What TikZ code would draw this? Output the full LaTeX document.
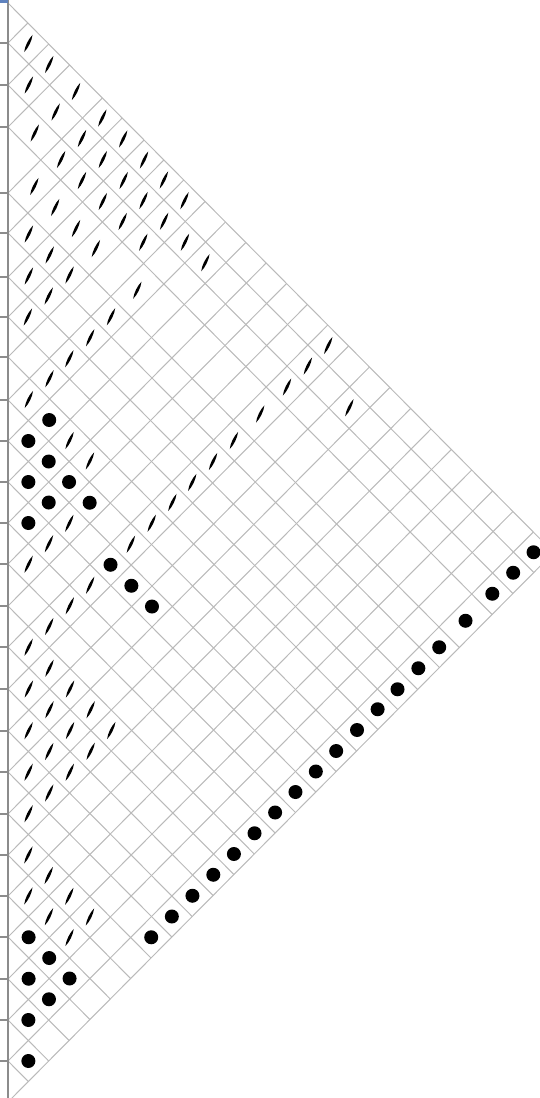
\documentclass[tikz,border=0pt]{standalone}
\usetikzlibrary{calc}
\definecolor{cellgray}{RGB}{186,186,186}
\definecolor{axisgray}{RGB}{140,140,140}
\definecolor{selblue}{RGB}{95,130,190}

% row boundaries down the axis, top to bottom
\def\rowpos{{3,43,85,127,193,233,277,317,357,400,441,482,523,564,606,647,689,731,772,814,855,896,937,979,1020,1061,1102}}
\def\sx{0.993}
% centre of cell (row #1, column #2)
\newcommand{\cellat}[2]{%
  \pgfmathtruncatemacro\na{#1+1}%
  \pgfmathtruncatemacro\nb{#2+1}%
  \pgfmathsetmacro\ua{\rowpos[#1]}%
  \pgfmathsetmacro\ub{\rowpos[\na]}%
  \pgfmathsetmacro\va{\rowpos[#2]}%
  \pgfmathsetmacro\vb{\rowpos[\nb]}%
  \pgfmathsetmacro\cx{8+\sx*(\va+\vb-\ua-\ub)/4}%
  \pgfmathsetmacro\cy{(\ua+\ub+\va+\vb)/4}}

\begin{document}
\begin{tikzpicture}[
  x=1pt, y=-1pt,
  gridline/.style={draw=cellgray,line width=1pt},
  axisline/.style={draw=axisgray,line width=1.6pt},
  tickline/.style={draw=axisgray,line width=1.2pt},
  slashmark/.style={fill=black},
  dotmark/.style={fill=black}
]
\useasboundingbox (0,0) rectangle (540,1098);
\clip (0,0) rectangle (540,1098);

\foreach \k in {0,...,26}{
  \pgfmathsetmacro\pk{\rowpos[\k]}
  \draw[gridline] (8,\pk) -- ({8+\sx*(1102-\pk)/2},{(\pk+1102)/2});
  \draw[gridline] (8,\pk) -- ({8+\sx*(\pk-3)/2},{(\pk+3)/2});
}

\draw[axisline] (8,0) -- (8,1098);
\foreach \k in {1,...,25}{
  \pgfmathsetmacro\pk{\rowpos[\k]}
  \draw[tickline] (0,\pk) -- (8,\pk);
}
\draw[draw=selblue,line width=2.6pt] (0,1.3) -- (8,1.3);

\foreach \a/\b in {0/1,0/2,0/3,0/4,0/5,0/6,0/7,0/8,0/15,
  1/2,1/3,1/4,1/5,1/6,1/7,1/8,1/9,1/10,1/15,1/17,
  2/3,2/4,2/5,2/6,2/7,2/8,2/15,3/4,3/5,3/6,3/7,3/9,3/15,
  4/5,4/6,4/7,4/9,4/15,5/6,5/7,5/9,5/15,6/7,6/9,6/15,7/9,7/15,
  8/9,8/11,8/12,8/15,9/15,10/13,11/13,11/15,12/13,12/15,13/15,
  14/15,14/16,14/17,14/18,14/19,15/16,15/17,15/18,15/19,
  16/17,16/18,16/19,17/18,17/19,18/19,
  19/20,19/21,19/22,19/23,20/21,20/22,20/23}{
  \cellat{\a}{\b}
  \fill[slashmark,shift={(\cx,\cy)},rotate=64]
    (-9.5,0) .. controls (-4,1.95) and (4,1.95) .. (9.5,0)
    .. controls (4,-1.95) and (-4,-1.95) .. cycle;
}

\foreach \a/\b in {8/10,9/10,9/11,9/12,9/13,10/11,10/12,10/15,10/16,10/17,11/12,
  21/22,21/23,21/24,22/23,22/24,23/24,24/25}{
  \cellat{\a}{\b}
  \fill[dotmark] (\cx,\cy) circle[radius=7];
}
\foreach \a in {0,...,18}{
  \cellat{\a}{25}
  \fill[dotmark] (\cx,\cy) circle[radius=7];
}
\end{tikzpicture}
\end{document}
